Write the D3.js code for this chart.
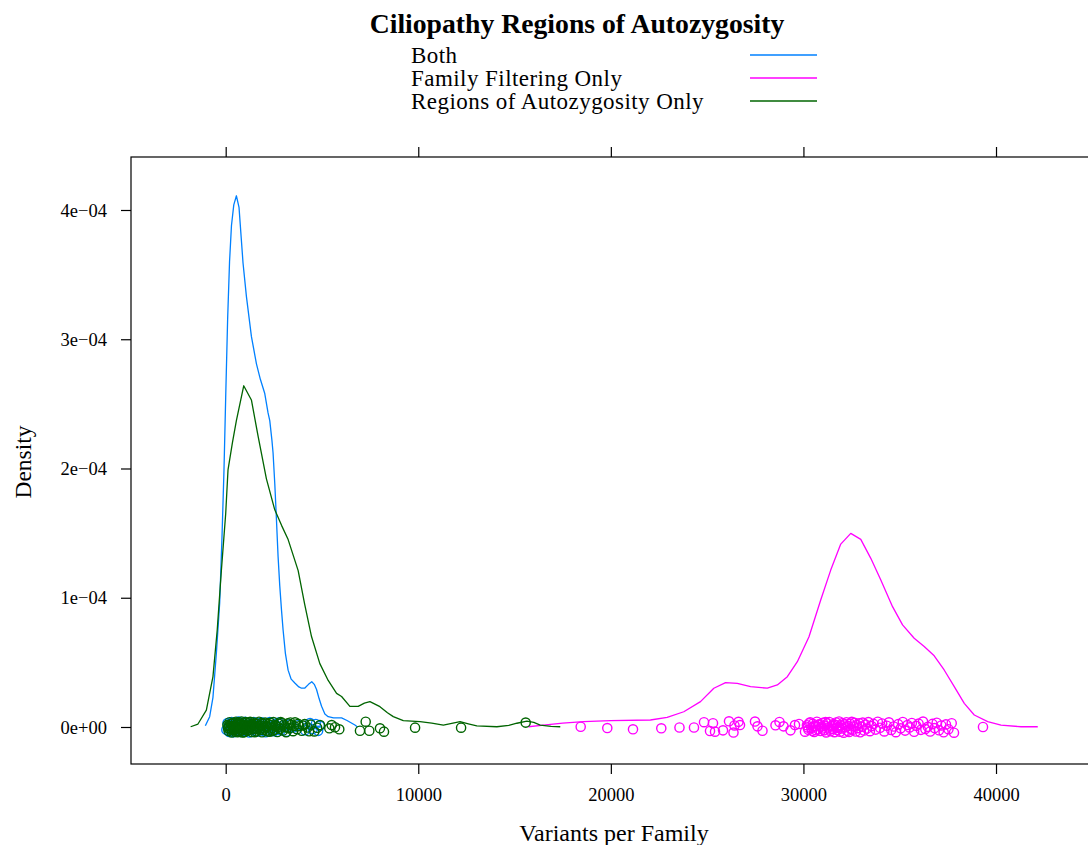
<!DOCTYPE html>
<html>
<head>
<meta charset="utf-8">
<script src="https://cdn.jsdelivr.net/npm/d3@7"></script>
<style>
  html, body { margin: 0; padding: 0; background: #ffffff; }
  svg { display: block; }
  text { font-family: "Liberation Serif", "Times New Roman", serif; fill: #000; }
</style>
</head>
<body>
<div id="chart"></div>
<script>
// ---------------- DATA ----------------
const titleText = "Ciliopathy Regions of Autozygosity";
const xLabel = "Variants per Family";
const yLabel = "Density";
const seriesNames = ["Both", "Family Filtering Only", "Regions of Autozygosity Only"];
const seriesColors = ["#0080ff", "#ff00ff", "#006400"];

const xTickValues = [0, 10000, 20000, 30000, 40000];
const xTickLabels = ["0", "10000", "20000", "30000", "40000"];
const yTickValues = [0, 1e-4, 2e-4, 3e-4, 4e-4];
const yTickLabels = ["0e+00", "1e\u221204", "2e\u221204", "3e\u221204", "4e\u221204"];

// density curve: Both
const bothCurveX = [-1056, -832, -661, -484, -312, -192, -88, 0, 100, 200, 300, 420, 557, 692, 900, 1077, 1337, 1597, 1800, 2029, 2200, 2289, 2400, 2460, 2550, 2637, 2720, 2809, 2900, 2981, 3100, 3241, 3400, 3589, 3800, 3938, 4100, 4300, 4470, 4600, 4718, 4850, 4978, 5150, 5321, 5600, 6018, 6300, 6710, 6850];
const bothCurveY = [0.01e-4, 0.08e-4, 0.23e-4, 0.57e-4, 0.96e-4, 1.47e-4, 1.99e-4, 2.55e-4, 3.15e-4, 3.60e-4, 3.88e-4, 4.04e-4, 4.11e-4, 4.02e-4, 3.59e-4, 3.33e-4, 3.02e-4, 2.81e-4, 2.69e-4, 2.58e-4, 2.43e-4, 2.37e-4, 2.22e-4, 2.12e-4, 1.88e-4, 1.60e-4, 1.32e-4, 1.09e-4, 0.90e-4, 0.75e-4, 0.57e-4, 0.44e-4, 0.37e-4, 0.34e-4, 0.31e-4, 0.30e-4, 0.30e-4, 0.33e-4, 0.35e-4, 0.33e-4, 0.29e-4, 0.22e-4, 0.16e-4, 0.10e-4, 0.08e-4, 0.07e-4, 0.07e-4, 0.05e-4, 0.015e-4, 0.0];

// density curve: Family Filtering Only
const familyCurveX = [15716, 16500, 17500, 18585, 19974, 22055, 22923, 23787, 24655, 25347, 25956, 26564, 27256, 28125, 28645, 29165, 29685, 30289, 30897, 31417, 31938, 32458, 32978, 33498, 34018, 34627, 35147, 35751, 36271, 36791, 37308, 37832, 38352, 38872, 39568, 40260, 41300, 42168];
const familyCurveY = [0.002e-4, 0.015e-4, 0.03e-4, 0.041e-4, 0.049e-4, 0.054e-4, 0.075e-4, 0.118e-4, 0.196e-4, 0.30e-4, 0.343e-4, 0.338e-4, 0.312e-4, 0.30e-4, 0.325e-4, 0.389e-4, 0.505e-4, 0.698e-4, 0.982e-4, 1.214e-4, 1.415e-4, 1.498e-4, 1.452e-4, 1.305e-4, 1.137e-4, 0.931e-4, 0.79e-4, 0.687e-4, 0.622e-4, 0.551e-4, 0.441e-4, 0.312e-4, 0.183e-4, 0.093e-4, 0.041e-4, 0.015e-4, 0.002e-4, 0.002e-4];

// density curve: Regions of Autozygosity Only
const roaCurveX = [-1820, -1440, -1004, -661, -440, -225, 0, 121, 350, 555, 936, 1335, 1682, 2115, 2549, 2900, 3243, 3763, 4100, 4456, 4889, 5322, 5758, 6018, 6450, 6882, 7200, 7490, 8010, 8400, 8702, 9222, 10091, 10700, 11303, 11800, 12172, 12600, 13040, 14081, 14700, 15121, 15641, 16000, 16333, 16900, 17373];
const roaCurveY = [0.002e-4, 0.023e-4, 0.13e-4, 0.39e-4, 0.75e-4, 1.21e-4, 1.65e-4, 1.99e-4, 2.20e-4, 2.37e-4, 2.64e-4, 2.53e-4, 2.25e-4, 1.92e-4, 1.68e-4, 1.56e-4, 1.45e-4, 1.21e-4, 0.95e-4, 0.70e-4, 0.49e-4, 0.36e-4, 0.26e-4, 0.236e-4, 0.16e-4, 0.16e-4, 0.185e-4, 0.196e-4, 0.157e-4, 0.11e-4, 0.08e-4, 0.049e-4, 0.041e-4, 0.03e-4, 0.015e-4, 0.03e-4, 0.041e-4, 0.025e-4, 0.008e-4, 0.002e-4, 0.012e-4, 0.029e-4, 0.046e-4, 0.035e-4, 0.015e-4, 0.005e-4, 0.002e-4];

// observed points: [variants per family, jittered density offset (x1e-6)]
const bothPoints = [[35,-2.1],[95,3.0],[140,0.4],[190,-3.8],[230,2.2],[265,-0.9],[310,3.9],[345,-2.7],[380,1.1],[415,-4.0],[450,2.9],[470,-1.3],[505,0.6],[540,3.5],[575,-3.2],[610,1.8],[640,-0.4],[665,4.2],[700,-2.4],[735,0.9],[770,-3.9],[805,2.6],[850,-1.0],[890,3.3],[925,-2.9],[965,0.2],[1010,4.0],[1050,-3.4],[1095,1.5],[1140,-1.8],[1180,3.1],[1230,-4.3],[1285,0.7],[1340,2.4],[1395,-2.2],[1450,3.8],[1510,-0.6],[1570,1.9],[1630,-3.6],[1690,2.8],[1745,-1.5],[1810,0.3],[1880,3.6],[1940,-2.8],[2010,1.0],[2080,-4.1],[2150,2.5],[2220,-0.8],[2290,3.9],[2360,-2.0],[2430,0.5],[2500,-3.3],[2570,2.1],[2650,-1.2],[2740,3.4],[2860,-2.6],[2990,0.8],[3150,-3.7],[3320,2.0],[3520,-0.3],[3800,1.6],[4120,-2.5],[4380,3.0],[4520,-1.6],[4680,2.3],[4800,-3.0],[4890,0.9]];

const familyPoints = [[18434,0.2],[19815,-0.8],[21150,-1.8],[22619,-1.0],[23564,-0.4],[24317,-0.4],[24837,3.7],[25304,2.9],[25149,-3.1],[25409,-3.6],[25824,-2.6],[26135,4.4],[26368,-4.3],[26420,1.2],[26628,4.0],[26706,1.5],[27485,4.2],[27615,0.5],[27874,-2.9],[28549,1.3],[28757,3.9],[28965,0.5],[29328,-2.6],[29562,1.5],[29770,2.3],[30081,-3.6],
[30180,1.4],[30220,-0.3],[30260,-2.2],[30300,2.9],[30350,3.6],[30410,-0.7],[30450,-3.0],[30490,2.5],[30530,0.5],[30560,-3.9],[30620,0.9],[30660,-2.5],[30700,4.1],[30760,-1.8],[30800,1.9],[30830,2.0],[30890,-3.1],[30940,0.3],[30975,-1.2],[31010,3.3],[31070,-2.6],[31120,1.1],[31150,3.8],[31180,-4.2],[31230,2.8],[31290,-0.4],[31340,3.9],[31370,-2.0],[31400,-3.3],[31450,0.6],[31500,-1.5],[31530,1.3],[31560,2.3],[31610,-4.0],[31650,1.7],[31700,3.5],[31730,-0.8],[31760,-2.4],[31810,0.0],[31850,4.3],[31900,-3.6],[31950,1.3],[32000,-1.1],[32040,3.0],[32090,-4.4],[32140,2.1],[32180,-0.2],[32230,3.7],[32280,-2.9],[32320,0.8],[32370,-3.8],[32420,2.6],[32460,-1.4],[32510,4.0],[32560,-2.1],[32610,0.5],[32660,3.2],[32720,-3.5],[32780,1.6],[32830,-0.9],[32890,2.9],[32950,-4.1],[33020,0.2],[33080,3.4],[33150,-2.7],[33220,1.9],[33290,-1.2],[33370,3.8],[33450,-3.2],[33540,0.7],[33640,2.4],[33750,-2.0],[33860,4.1],
[33980,-0.6],[34090,2.7],[34200,-3.4],[34330,1.0],[34440,3.6],[34560,-2.3],[34690,0.4],[34800,-4.0],[34920,2.2],[35050,-1.0],[35160,3.9],[35280,-2.8],[35400,1.5],[35510,-0.3],[35630,3.1],[35750,-3.7],[35860,0.9],[35980,2.6],[36100,-2.2],[36210,4.2],[36330,-1.5],[36460,0.1],[36580,-3.5],[36700,2.4],[36810,-0.8],[36920,3.3],[37040,-2.5],[37160,1.2],[37280,-4.1],[37400,2.0],[37530,-1.7],[37699,2.9],[37818,-4.4],[39324,0.0]];

const roaPoints = [[90,1.5],[120,-0.8],[150,-3.1],[175,0.9],[200,3.7],[225,-2.0],[245,-0.5],[280,2.4],[300,-1.6],[320,-4.2],[340,2.9],[360,0.8],[395,3.2],[410,-0.6],[430,-2.3],[465,1.2],[480,-1.9],[500,-3.7],[530,4.1],[545,0.2],[560,-1.1],[595,2.0],[610,-4.1],[625,-2.9],[655,0.1],[670,2.6],[690,3.6],[720,-3.5],[740,-0.2],[755,1.7],[790,-0.7],[810,2.2],[825,4.3],[860,-2.6],[875,-4.3],[895,0.5],[930,2.9],[950,-1.5],[965,-4.0],[1000,1.3],[1020,3.9],[1040,-1.9],[1075,3.3],[1095,-0.4],[1115,-3.0],[1150,0.6],[1170,-2.4],[1190,2.7],[1230,-2.2],[1250,1.0],[1270,4.0],[1310,-0.2],[1330,2.0],[1355,-3.8],[1400,1.9],[1420,-1.3],[1445,3.5],[1490,-1.4],[1510,-4.0],[1535,0.9],[1560,2.8],[1585,-3.3],[1630,2.3],[1655,-1.8],[1680,-0.6],[1730,4.1],[1755,0.4],[1780,-2.4],[1830,1.1],[1860,3.0],[1885,-4.1],[1940,2.6],[1965,-2.3],[1995,-1.0],[2050,3.4],[2080,0.3],[2105,-2.8],[2165,0.4],[2190,-3.5],[2225,2.1],[2285,-3.6],[2310,3.2],[2345,1.6],[2410,-0.8],[2440,-3.0],[2475,3.8],[2540,-2.1],[2575,1.4],[2610,0.7],[2680,-3.9],[2715,0.0],[2750,2.5],[2825,-1.3],[2860,3.9],[2900,3.1],[2980,-2.7],[3020,1.8],[3060,0.2],[3140,-4.0],[3190,-0.5],[3230,2.8],[3320,-0.9],[3360,3.5],[3410,1.7],[3500,-3.2],[3550,0.8],[3600,3.6],[3700,-1.7],[3760,2.4],[3810,0.6],[3950,-2.9],[4020,1.1],[4100,2.2],[4250,-0.4],[4330,-3.3],[4420,1.8],[4600,-3.4],[4750,-0.6],[4897,1.5],[5380,-1.0],[5504,1.5],[5676,-0.2],[5899,-1.8],[6973,-2.9],[7270,4.1],[7457,-2.9],[8012,-1.0],[8220,-3.6],[9834,-0.5],[12223,-0.5],[15578,3.4]];

// ---------------- CHART ----------------
const W = 1088, H = 845;
const svg = d3.select("#chart").append("svg").attr("width", W).attr("height", H);
svg.append("rect").attr("width", W).attr("height", H).attr("fill", "#fff");

const plotL = 131, plotR = 1097, plotT = 157, plotB = 764;
const x = d3.scaleLinear().domain([-4917, 45244]).range([plotL, plotR]);
const y = d3.scaleLinear().domain([-2.863e-5, 4.41e-4]).range([plotB, plotT]);

svg.append("clipPath").attr("id", "clip").append("rect")
  .attr("x", plotL).attr("y", plotT).attr("width", plotR - plotL).attr("height", plotB - plotT);

const g = svg.append("g").attr("clip-path", "url(#clip)");

const curves = [
  {x: bothCurveX, y: bothCurveY, pts: bothPoints},
  {x: familyCurveX, y: familyCurveY, pts: familyPoints},
  {x: roaCurveX, y: roaCurveY, pts: roaPoints}
];

const line = d3.line().x(d => x(d[0])).y(d => y(d[1]));

curves.forEach((c, i) => {
  const col = seriesColors[i];
  g.append("g").selectAll("circle").data(c.pts).enter().append("circle")
    .attr("cx", d => x(d[0]))
    .attr("cy", d => y(d[1] * 1e-6))
    .attr("r", 4.6)
    .attr("fill", "none")
    .attr("stroke", col)
    .attr("stroke-width", 1.4);
  const pts = c.x.map((v, k) => [v, c.y[k]]);
  g.append("path").datum(pts).attr("d", line)
    .attr("fill", "none").attr("stroke", col).attr("stroke-width", 1.3)
    .attr("stroke-linejoin", "round");
});

// box
svg.append("rect").attr("x", plotL).attr("y", plotT)
  .attr("width", plotR - plotL).attr("height", plotB - plotT)
  .attr("fill", "none").attr("stroke", "#000").attr("stroke-width", 1.2);

// axes
const tickLen = 10;
const axB = svg.append("g").attr("transform", `translate(0,${plotB})`)
  .call(d3.axisBottom(x).tickValues(xTickValues).tickSize(tickLen).tickFormat((d, i) => xTickLabels[i]));
axB.select(".domain").remove();
axB.selectAll("text").attr("y", 37).attr("dy", 0)
  .style("font-family", "Liberation Serif, serif").style("font-size", "18.5px").attr("fill", "#000");

const axT = svg.append("g").attr("transform", `translate(0,${plotT})`)
  .call(d3.axisTop(x).tickValues(xTickValues).tickSize(tickLen).tickFormat(""));
axT.select(".domain").remove();

const axL = svg.append("g").attr("transform", `translate(${plotL},0)`)
  .call(d3.axisLeft(y).tickValues(yTickValues).tickSize(tickLen).tickFormat((d, i) => yTickLabels[i]));
axL.select(".domain").remove();
axL.selectAll("text").attr("x", -24).attr("dy", "0.33em")
  .style("font-family", "Liberation Serif, serif").style("font-size", "18.5px").attr("fill", "#000");

svg.selectAll(".tick line").attr("stroke", "#000").attr("stroke-width", 1.2);

// axis labels
svg.append("text").attr("x", 614).attr("y", 841).attr("text-anchor", "middle")
  .style("font-size", "24px").text(xLabel);
svg.append("text").attr("transform", "translate(31,462) rotate(-90)").attr("text-anchor", "middle")
  .style("font-size", "23.5px").text(yLabel);

// title
svg.append("text").attr("x", 577).attr("y", 33).attr("text-anchor", "middle")
  .style("font-size", "27.7px").style("font-weight", "bold").text(titleText);

// legend
seriesNames.forEach((name, i) => {
  const yy = 55 + i * 23;
  svg.append("text").attr("x", 411).attr("y", yy + 8).style("font-size", "23px")
    .style("letter-spacing", "0.45px").text(name);
  svg.append("line").attr("x1", 750).attr("x2", 817).attr("y1", yy).attr("y2", yy)
    .attr("stroke", seriesColors[i]).attr("stroke-width", 1.5);
});
</script>
</body>
</html>
